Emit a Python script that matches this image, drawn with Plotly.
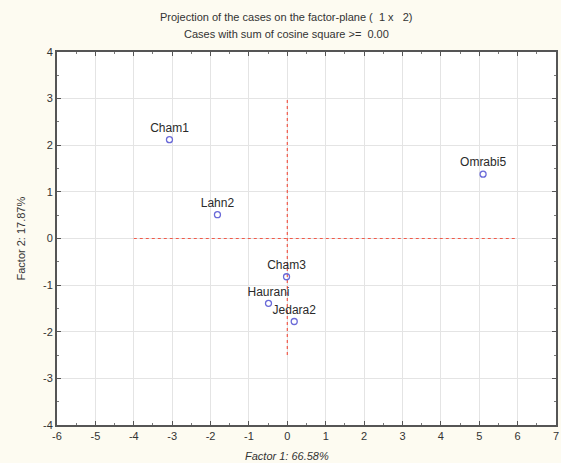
import plotly.graph_objects as go

names = ["Cham1", "Lahn2", "Omrabi5", "Cham3", "Haurani", "Jedara2"]
factor1 = [-3.07, -1.82, 5.10, -0.02, -0.49, 0.18]
factor2 = [2.12, 0.51, 1.38, -0.82, -1.39, -1.78]

hline_x = [-4, 6]
hline_y = [0, 0]
vline_x = [0, 0]
vline_y = [-2.5, 3]

x_ticks = list(range(-6, 8))
y_ticks = list(range(-4, 5))
x_ticktext = [str(v) for v in x_ticks]
y_ticktext = [str(v) for v in y_ticks]

FONT = "Liberation Sans, Arial"

fig = go.Figure()
fig.add_trace(go.Scatter(x=hline_x, y=hline_y, mode="lines",
                         line=dict(color="#f05a4a", width=1.2, dash="dot"), hoverinfo="skip"))
fig.add_trace(go.Scatter(x=vline_x, y=vline_y, mode="lines",
                         line=dict(color="#f05a4a", width=1.2, dash="dot"), hoverinfo="skip"))
fig.add_trace(go.Scatter(x=factor1, y=factor2, mode="markers+text", text=names,
                         textposition="top center",
                         textfont=dict(family=FONT, size=12, color="#2a2a2a"),
                         marker=dict(symbol="circle-open", size=6, color="#6a6ad8", line=dict(width=1.3))))

axis_common = dict(
    showgrid=True, gridcolor="#e4e4e4", gridwidth=1, automargin=False,
    zeroline=False, showline=True, linecolor="#555555", linewidth=2, mirror="ticks",
    ticks="inside", ticklen=4, tickcolor="#555555",
    minor=dict(ticks="inside", ticklen=2, tickcolor="#777777", showgrid=False),
    tickfont=dict(family=FONT, size=11, color="#333333"),
)

fig.update_layout(
    width=561, height=463,
    paper_bgcolor="#fdfbf1", plot_bgcolor="#ffffff",
    showlegend=False,
    margin=dict(l=57, r=5, t=52, b=38, autoexpand=False),
    xaxis=dict(range=[-6, 7], tickvals=x_ticks, ticktext=x_ticktext, minor_dtick=0.5,
               **axis_common),
    yaxis=dict(range=[-4, 4], tickvals=y_ticks, ticktext=y_ticktext, minor_dtick=0.5,
               **axis_common),
    annotations=[
        dict(text="Projection of the cases on the factor-plane (  1 x   2)", xref="paper", yref="paper",
             x=0.46, y=1.0, yshift=35, xanchor="center", yanchor="middle", showarrow=False,
             font=dict(family=FONT, size=11, color="#333333")),
        dict(text="Cases with sum of cosine square >=  0.00", xref="paper", yref="paper",
             x=0.46, y=1.0, yshift=18, xanchor="center", yanchor="middle", showarrow=False,
             font=dict(family=FONT, size=11, color="#333333")),
        dict(text="<i>Factor 1: 66.58%</i>", xref="paper", yref="paper",
             x=0.46, y=0.0, yshift=-31, xanchor="center", yanchor="middle", showarrow=False,
             font=dict(family=FONT, size=11, color="#333333")),
        dict(text="Factor 2: 17.87%", xref="paper", yref="paper", textangle=-90,
             x=0.0, xshift=-37, y=0.5, xanchor="center", yanchor="middle", showarrow=False,
             font=dict(family=FONT, size=11, color="#333333")),
    ],
)

fig.write_html("out.html", config={"displayModeBar": False},
               post_script="document.body.style.margin='0';")
